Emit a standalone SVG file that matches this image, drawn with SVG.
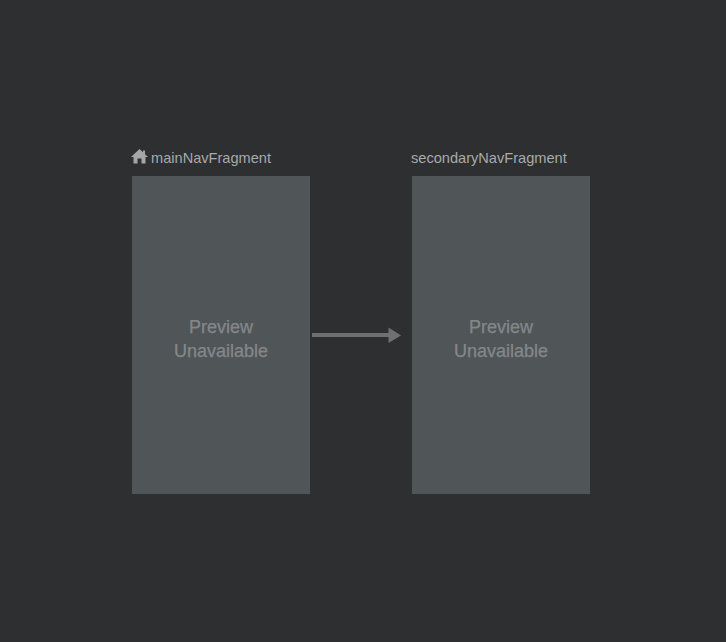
<svg xmlns="http://www.w3.org/2000/svg" width="726" height="642" viewBox="0 0 726 642">
<style>
text{font-family:"Liberation Sans",Arial,sans-serif}
.box{fill:#505658}
.title{font-size:14.6px;fill:#a8aaac}
.pv{font-size:18px;fill:#84888a;stroke:#84888a;stroke-width:.25;text-anchor:middle}
.conn{stroke:#707070;stroke-width:4;fill:none}
.head{fill:#707070}
</style>
<rect width="726" height="642" fill="#2d2f31"/>
<g id="mainNavFragment">
<path d="M139.500 149L131 157H133.500V163.500H137.500V158.500H141.500V163.500H145.500V157H148L145 154.200V150.500H143V152.300Z" fill="#a4a6a8"/>
<text class="title" x="151" y="163">mainNavFragment</text>
<rect class="box" x="132" y="176" width="178" height="318"/>
<text class="pv" x="221" y="333">Preview</text>
<text class="pv" x="221" y="357">Unavailable</text>
</g>
<g id="secondaryNavFragment">
<text class="title" x="411" y="163">secondaryNavFragment</text>
<rect class="box" x="412" y="176" width="178" height="318"/>
<text class="pv" x="501" y="333">Preview</text>
<text class="pv" x="501" y="357">Unavailable</text>
</g>
<g id="connectors">
<path class="conn" d="M312 335H390"/>
<path class="head" d="M388.500 327.500L401 335.500L388.500 343Z"/>
</g>
</svg>
